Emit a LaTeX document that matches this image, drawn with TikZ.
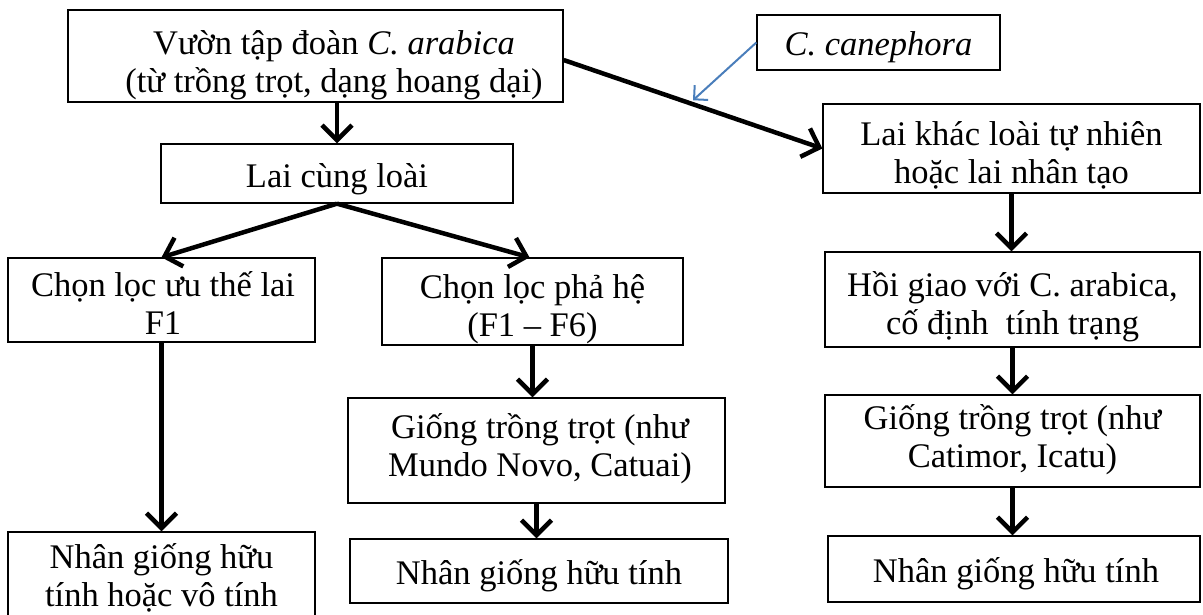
\documentclass[tikz,border=0pt]{standalone}
\usepackage{fontspec}
\setmainfont{Liberation Serif}
\usetikzlibrary{arrows.meta}
\definecolor{wordblue}{RGB}{74,126,187}
\tikzset{
  box/.style={draw, line width=1.3pt, inner sep=0pt},
  txt/.style={align=center, inner sep=0pt, anchor=base,
    font=\fontsize{34.5}{38}\selectfont},
  flow/.style={line width=4.5pt, -{Straight Barb[length=15pt,width=30pt,line width=4.5pt]}},
  thinflow/.style={line width=2pt, draw=wordblue, -{Straight Barb[length=10pt,width=20pt,line width=2pt]}}
}
\begin{document}
\begin{tikzpicture}[x=1pt,y=-1pt]
\useasboundingbox (0,0) rectangle (1203,614);
\fill[white] (0,0) rectangle (1203,614);
% boxes
\node[box, minimum width=495pt, minimum height=92pt] (top) at (315.5,56) {};
\node[box, minimum width=243pt, minimum height=55pt] (can) at (878.5,42.5) {};
\node[box, minimum width=352pt, minimum height=59pt] (cung) at (337,173.5) {};
\node[box, minimum width=377pt, minimum height=89pt] (khac) at (1011.5,148.5) {};
\node[box, minimum width=307pt, minimum height=84pt] (f1) at (161.5,300) {};
\node[box, minimum width=301pt, minimum height=87pt] (ph) at (532.5,301.5) {};
\node[box, minimum width=375pt, minimum height=95pt] (hoi) at (1012.5,299.5) {};
\node[box, minimum width=377pt, minimum height=105pt] (gmid) at (536.5,450.5) {};
\node[box, minimum width=375pt, minimum height=92pt] (gright) at (1012.5,441) {};
\node[box, minimum width=307pt, minimum height=86pt] (nleft) at (161.5,575) {};
\node[box, minimum width=378pt, minimum height=64pt] (nmid) at (539,571) {};
\node[box, minimum width=372pt, minimum height=66pt] (nright) at (1014,569) {};
% texts (anchored at last baseline)
\node[txt] (topT) at (334,92) {Vườn tập đoàn \textit{C. arabica}\\(từ trồng trọt, dạng hoang dại)};
\node[txt] (canT) at (878.5,55) {\textit{C. canephora}};
\node[txt] (cungT) at (337,187) {Lai cùng loài};
\node[txt] (khacT) at (1011.5,183) {Lai khác loài tự nhiên\\hoặc lai nhân tạo};
\node[txt] (f1T) at (163,334) {Chọn lọc ưu thế lai\\F1};
\node[txt] (phT) at (532.5,336) {Chọn lọc phả hệ\\(F1 – F6)};
\node[txt] (hoiT) at (1012.5,334) {Hồi giao với C. arabica,\\cố định~ tính trạng};
\node[txt] (gmidT) at (540,476) {Giống trồng trọt (như\\Mundo Novo, Catuai)};
\node[txt] (grightT) at (1012.5,467) {Giống trồng trọt (như\\Catimor, Icatu)};
\node[txt] (nleftT) at (161.5,606) {Nhân giống hữu\\tính hoặc vô tính};
\node[txt] (nmidT) at (539,584) {Nhân giống hữu tính};
\node[txt] (nrightT) at (1016,582) {Nhân giống hữu tính};
% connectors
\draw[flow] (top.south -| cung.south) -- (cung.north);
\draw[flow] ([yshift=-4pt]top.east) -- coordinate[pos=0.5] (hit) (khac.west);
\draw[thinflow] (can.west) -- ([yshift=4pt]hit);
\draw[flow] (cung.south) -- (f1.north);
\draw[flow] (cung.south) -- ([xshift=-3pt]ph.north);
\draw[flow] (f1.south) -- (nleft.north);
\draw[flow] (ph.south) -- (ph.south |- gmid.north);
\draw[flow] (gmid.south) -- (gmid.south |- nmid.north);
\draw[flow] (khac.south) -- (khac.south |- hoi.north);
\draw[flow] (hoi.south) -- (hoi.south |- gright.north);
\draw[flow] (gright.south) -- (gright.south |- nright.north);
\end{tikzpicture}
\end{document}
